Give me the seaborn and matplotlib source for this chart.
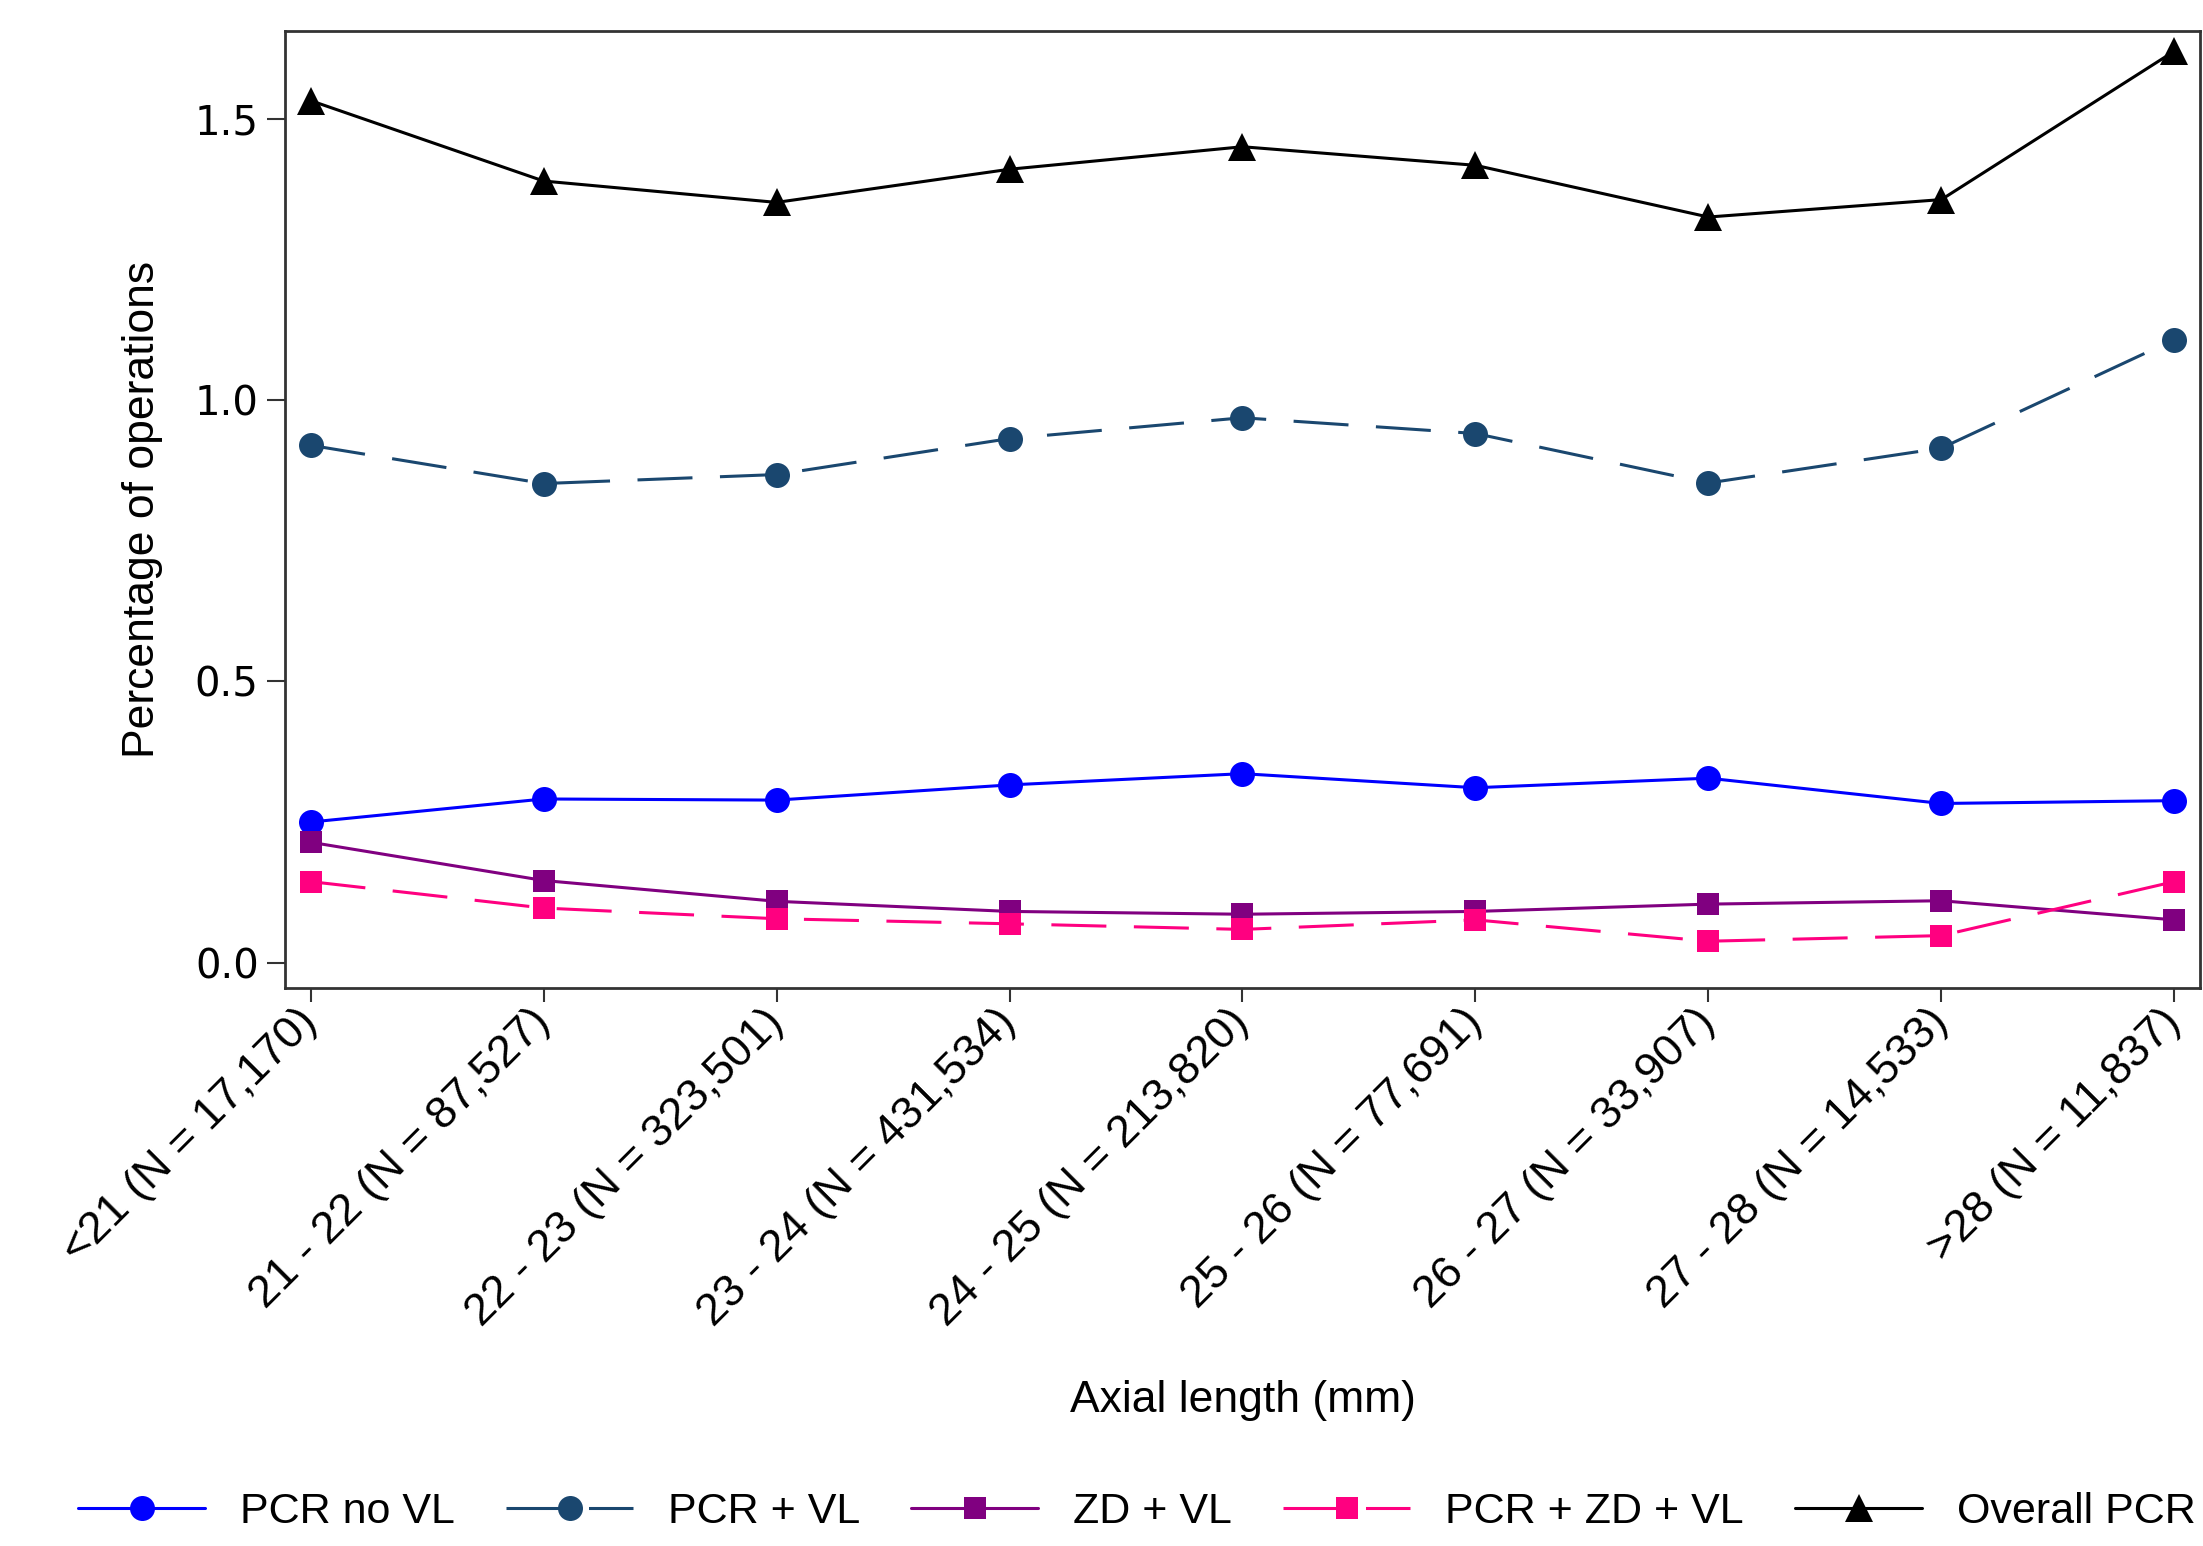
import numpy as np
import pandas as pd
import matplotlib
matplotlib.use("Agg")
import matplotlib.pyplot as plt
import seaborn as sns

# categorias do eixo x (comprimento axial)
categories = ['<21 (N = 17,170)', '21 - 22 (N = 87,527)', '22 - 23 (N = 323,501)',
              '23 - 24 (N = 431,534)', '24 - 25 (N = 213,820)', '25 - 26 (N = 77,691)',
              '26 - 27 (N = 33,907)', '27 - 28 (N = 14,533)', '>28 (N = 11,837)']

# valores (% de operacoes)
pcr_no_vl = [0.250, 0.291, 0.289, 0.316, 0.336, 0.311, 0.328, 0.283, 0.288]
pcr_vl = [0.920, 0.852, 0.868, 0.932, 0.969, 0.941, 0.853, 0.915, 1.108]
zd_vl = [0.214, 0.146, 0.109, 0.091, 0.086, 0.091, 0.104, 0.110, 0.076]
pcr_zd_vl = [0.144, 0.097, 0.078, 0.069, 0.059, 0.076, 0.038, 0.048, 0.144]
overall_pcr = [1.533, 1.390, 1.352, 1.411, 1.451, 1.418, 1.326, 1.357, 1.621]

series_names = ['PCR no VL', 'PCR + VL', 'ZD + VL', 'PCR + ZD + VL', 'Overall PCR']
series_values = [pcr_no_vl, pcr_vl, zd_vl, pcr_zd_vl, overall_pcr]

# estilo de cada serie
colors = ['#0000ff', '#1a476f', '#800080', '#ff0080', '#000000']
markers = ['o', 'o', 's', 's', '^']
msizes = [18, 18, 16, 16, 20]
dashed = [False, True, False, True, False]

sns.set_theme(style='ticks')
plt.rcParams['font.family'] = ['Liberation Sans', 'DejaVu Sans']
plt.rcParams['text.color'] = 'black'
plt.rcParams['axes.labelcolor'] = 'black'
plt.rcParams['xtick.labelcolor'] = 'black'
plt.rcParams['ytick.labelcolor'] = 'black'

fig = plt.figure(figsize=(22.03, 15.46), dpi=100)
ax = fig.add_axes([0.1294, 0.361, 0.8692, 0.619])

x = np.arange(len(categories))
for name, vals, c, m, ms, d in zip(series_names, series_values, colors, markers, msizes, dashed):
    sns.lineplot(x=x, y=vals, ax=ax, color=c, marker=m, markersize=ms,
                 markeredgewidth=0, linewidth=2.2, label=name)
    line = ax.lines[-1]
    if d:
        line.set_dashes((18, 9))

ax.set_xlim(-0.11, 8.11)
ax.set_ylim(-0.045, 1.657)
ax.set_xticks(x)
ax.set_xticklabels(categories, rotation=45, ha='right', va='center',
                   rotation_mode='anchor', fontsize=32.5)
ax.set_yticks([0.0, 0.5, 1.0, 1.5])
ax.set_yticklabels(['0.0', '0.5', '1.0', '1.5'], family='DejaVu Sans', fontsize=29)
ax.tick_params(axis='x', length=10, width=1.5, pad=10, color='#333333')
ax.tick_params(axis='y', length=13, width=1.5, pad=6, color='#333333')
for s in ax.spines.values():
    s.set_linewidth(2)
    s.set_color('#333333')

ax.set_ylabel('Percentage of operations', fontsize=32)
ax.yaxis.set_label_coords(-0.064, 0.5)
ax.set_xlabel('Axial length (mm)', fontsize=32, va='top')
ax.xaxis.set_label_coords(0.5, -0.41)

handles, labels = ax.get_legend_handles_labels()
ax.get_legend().remove()
fig.legend(handles, labels, loc='center', bbox_to_anchor=(0.516, 0.022), ncol=5,
           frameon=False, fontsize=31, handlelength=2.95, columnspacing=1.2,
           handletextpad=0.8)

fig.savefig('out.png', dpi=100)
